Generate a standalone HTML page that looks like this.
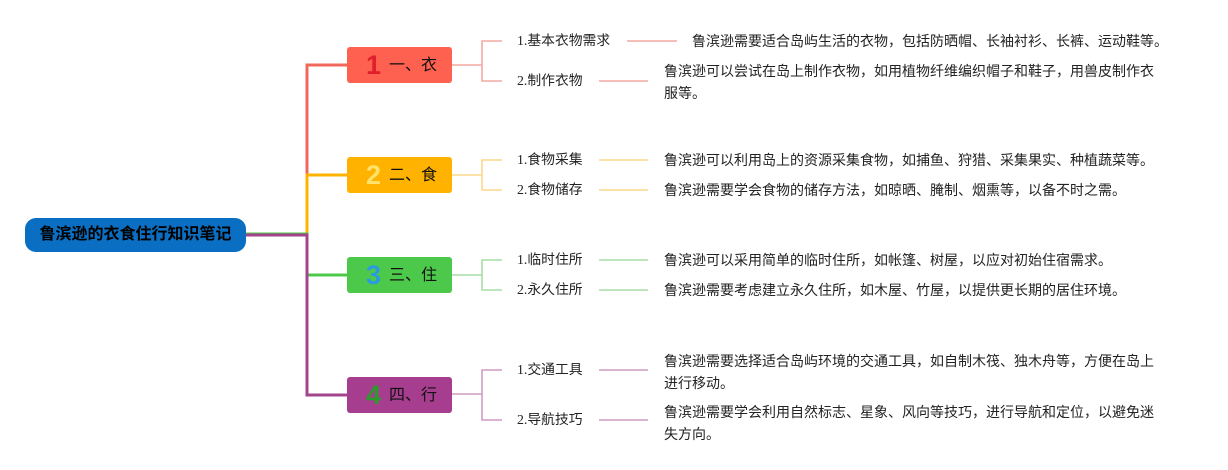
<!DOCTYPE html>
<html>
<head>
<meta charset="utf-8">
<style>
  html,body{margin:0;padding:0;background:#fff;}
  #c{position:relative;width:1228px;height:470px;overflow:hidden;background:#fff;
     font-family:"Liberation Sans","Noto Sans CJK SC",sans-serif;}
  svg{position:absolute;left:0;top:0;}
  .root{position:absolute;left:25px;top:218px;width:221px;height:34px;background:#0a6fc2;border-radius:11px;
        color:#000;font-weight:bold;font-size:16px;line-height:34px;text-align:center;
        font-family:"Liberation Sans","Noto Sans CJK SC",sans-serif;}
  .br{position:absolute;left:347px;width:105px;height:36px;border-radius:3px;}
  .br .n{position:absolute;left:19px;top:0;height:36px;line-height:36px;font-size:27px;font-weight:bold;
         font-family:"Liberation Sans","DejaVu Sans",sans-serif;}
  .br .t{position:absolute;left:42px;top:0;height:36px;line-height:37px;font-size:16px;color:#111;
         font-family:"Liberation Sans","Noto Sans CJK SC",sans-serif;white-space:nowrap;}
  .lb{position:absolute;left:517px;font-size:13.8px;line-height:22px;color:#222;white-space:nowrap;
      font-family:"Liberation Serif","Noto Sans CJK SC",serif;}
  .ds{position:absolute;font-size:14px;line-height:22px;color:#222;white-space:nowrap;
      font-family:"Liberation Sans","Noto Sans CJK SC",sans-serif;}
</style>
</head>
<body>
<div id="c">
<svg width="1228" height="470" viewBox="0 0 1228 470">
  <g fill="none" stroke-width="3" stroke-linejoin="miter">
    <path d="M246 234 H307 V65 H347" stroke="#f0675c"/>
    <path d="M246 234 H307 V175 H347" stroke="#ffb300"/>
    <path d="M246 234 H307 V275 H347" stroke="#4cc94a"/>
    <path d="M246 235 H307 V395 H347" stroke="#a2448c"/>
  </g>
  <g fill="none" stroke-width="1.6">
    <g stroke="#f4a8a2">
      <path d="M452 65 H482"/><path d="M502 41 H482 V81 H502"/>
      <path d="M627 41 H677"/><path d="M599 81 H648"/>
    </g>
    <g stroke="#fbd98c">
      <path d="M452 175 H482"/><path d="M502 160 H482 V190 H502"/>
      <path d="M599 160 H648"/><path d="M599 190 H648"/>
    </g>
    <g stroke="#a8dea6">
      <path d="M452 275 H482"/><path d="M502 260 H482 V290 H502"/>
      <path d="M599 260 H648"/><path d="M599 290 H648"/>
    </g>
    <g stroke="#cf9cc4">
      <path d="M452 394 H482"/><path d="M502 370 H482 V420 H502"/>
      <path d="M599 370 H648"/><path d="M599 420 H648"/>
    </g>
  </g>
</svg>

<div class="root">鲁滨逊的衣食住行知识笔记</div>

<div class="br" style="top:47px;background:#ff6150;"><span class="n" style="color:#e01f2b;">1</span><span class="t">一、衣</span></div>
<div class="br" style="top:157px;background:#ffb300;"><span class="n" style="color:#ffe36b;">2</span><span class="t">二、食</span></div>
<div class="br" style="top:257px;background:#4cc94a;"><span class="n" style="color:#2a9be0;">3</span><span class="t">三、住</span></div>
<div class="br" style="top:377px;background:#a63d8e;"><span class="n" style="color:#2c9a2c;">4</span><span class="t">四、行</span></div>

<div class="lb" style="top:30px;">1.基本衣物需求</div>
<div class="lb" style="top:70px;">2.制作衣物</div>
<div class="lb" style="top:149px;">1.食物采集</div>
<div class="lb" style="top:179px;">2.食物储存</div>
<div class="lb" style="top:249px;">1.临时住所</div>
<div class="lb" style="top:279px;">2.永久住所</div>
<div class="lb" style="top:359px;">1.交通工具</div>
<div class="lb" style="top:409px;">2.导航技巧</div>

<div class="ds" style="left:692px;top:30px;">鲁滨逊需要适合岛屿生活的衣物，包括防晒帽、长袖衬衫、长裤、运动鞋等。</div>
<div class="ds" style="left:664px;top:60px;">鲁滨逊可以尝试在岛上制作衣物，如用植物纤维编织帽子和鞋子，用兽皮制作衣<br>服等。</div>
<div class="ds" style="left:664px;top:149px;">鲁滨逊可以利用岛上的资源采集食物，如捕鱼、狩猎、采集果实、种植蔬菜等。</div>
<div class="ds" style="left:664px;top:179px;">鲁滨逊需要学会食物的储存方法，如晾晒、腌制、烟熏等，以备不时之需。</div>
<div class="ds" style="left:664px;top:249px;">鲁滨逊可以采用简单的临时住所，如帐篷、树屋，以应对初始住宿需求。</div>
<div class="ds" style="left:664px;top:279px;">鲁滨逊需要考虑建立永久住所，如木屋、竹屋，以提供更长期的居住环境。</div>
<div class="ds" style="left:664px;top:350px;">鲁滨逊需要选择适合岛屿环境的交通工具，如自制木筏、独木舟等，方便在岛上<br>进行移动。</div>
<div class="ds" style="left:664px;top:401px;">鲁滨逊需要学会利用自然标志、星象、风向等技巧，进行导航和定位，以避免迷<br>失方向。</div>
</div>
</body>
</html>
